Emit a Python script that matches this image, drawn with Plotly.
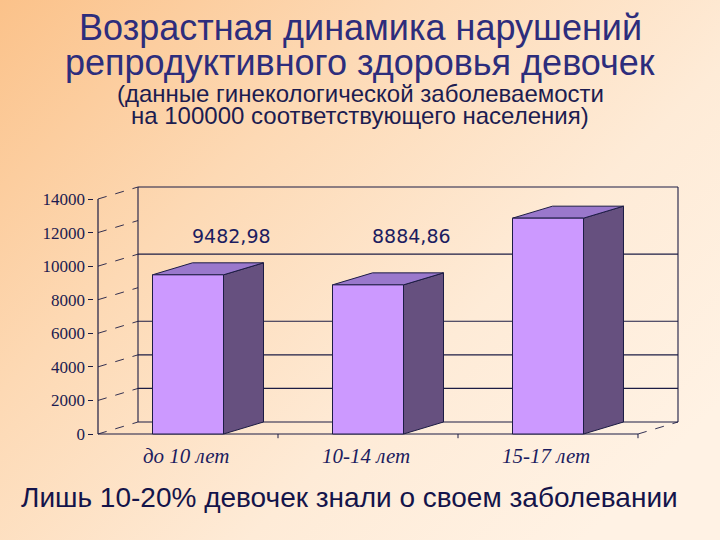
import base64
import plotly.graph_objects as go

# ---------------- data ----------------
categories = ["до 10 лет", "10-14 лет", "15-17 лет"]
values = [9482.98, 8884.86, 12858.07]
value_labels = ["9482,98", "8884,86", "12858,07"]
tick_values = [0, 2000, 4000, 6000, 8000, 10000, 12000, 14000]
tick_labels = ["0", "2000", "4000", "6000", "8000", "10000", "12000", "14000"]
back_grid_values = [0, 2000, 4000, 6000, 10000, 14000]
y_max = 14000

# ---------------- geometry / style ----------------
FIG_W, FIG_H = 720, 540
PX_X = 180.0                # px per category
PX_Y = 235.0 / y_max        # px per value unit
X0_PX, Y0_PX = 98.0, 434.0  # pixel of (x=-0.5, y=0)
DX = 40.0 / PX_X            # depth offset (x)
DY = 12.0 / PX_Y            # depth offset (y)
BAR_W = 71.0 / PX_X
EX, EY = 0.02, 300.0

x_lo, x_hi = -0.5 - EX, 2.5 + DX + EX
y_lo, y_hi = -EY, y_max + DY + EY
dom_x = [(X0_PX + (x_lo + 0.5) * PX_X) / FIG_W, (X0_PX + (x_hi + 0.5) * PX_X) / FIG_W]
dom_y = [(FIG_H - (Y0_PX - y_lo * PX_Y)) / FIG_H, (FIG_H - (Y0_PX - y_hi * PX_Y)) / FIG_H]

INK = "#1c1c44"
FRONT = "#cc99ff"
SIDE = "#66507f"
TOP = "#9a78cc"

fig = go.Figure()


def line(xs, ys, dash="solid", width=1.1, color=INK):
    fig.add_trace(go.Scatter(x=xs, y=ys, mode="lines", hoverinfo="skip",
                             line=dict(color=color, width=width, dash=dash),
                             showlegend=False))


def poly(xs, ys, fill):
    fig.add_trace(go.Scatter(x=xs + [xs[0]], y=ys + [ys[0]], mode="lines",
                             fill="toself", fillcolor=fill, hoverinfo="skip",
                             line=dict(color=INK, width=1), showlegend=False))


bx0, bx1 = -0.5 + DX, 2.5 + DX
# back wall grid lines
for v in back_grid_values:
    line([bx0, bx1], [v + DY, v + DY], width=1.1)
# back wall verticals
line([bx0, bx0], [DY, y_max + DY])
line([bx1, bx1], [DY, y_max + DY])
# dashed connectors from front axis to back wall
for v in tick_values:
    line([-0.5, bx0], [v, v + DY], dash="dash", width=0.9)
# floor
line([-0.5, 2.5], [0, 0])
line([2.5, bx1], [0, DY], dash="dash", width=0.9)
# front axis line
line([-0.5, -0.5], [0, y_max], width=1.2)
# category boundary ticks
for b in [0.5, 1.5, 2.5]:
    line([b, b], [0, -250], width=1)

# bars (front, side, top faces)
for i, v in enumerate(values):
    l, r = i - BAR_W / 2, i + BAR_W / 2
    poly([r, r + DX, r + DX, r], [0, DY, v + DY, v], SIDE)
    poly([l, l + DX, r + DX, r], [v, v + DY, v + DY, v], TOP)
    poly([l, r, r, l], [0, 0, v, v], FRONT)

# ---------------- background gradient ----------------
svg = (
    '<svg xmlns="http://www.w3.org/2000/svg" width="720" height="540" '
    'viewBox="0 0 720 540" preserveAspectRatio="none">'
    '<defs><linearGradient id="g" x1="0" y1="0" x2="1" y2="0.75">'
    '<stop offset="0" stop-color="#fbc28a"/>'
    '<stop offset="0.35" stop-color="#fdd9b4"/>'
    '<stop offset="0.7" stop-color="#feebd7"/>'
    '<stop offset="1" stop-color="#fff2e4"/>'
    '</linearGradient></defs>'
    '<rect width="720" height="540" fill="url(#g)"/></svg>'
)
bg_src = "data:image/svg+xml;base64," + base64.b64encode(svg.encode()).decode()


def py(px):
    return 1 - px / FIG_H


def pxx(px):
    return px / FIG_W


annotations = []
# title
annotations.append(dict(text="Возрастная динамика нарушений", x=pxx(360), y=py(28),
                        font=dict(family="Liberation Sans", size=36, color="#2d2d7c")))
annotations.append(dict(text="репродуктивного здоровья девочек", x=pxx(360), y=py(62),
                        font=dict(family="Liberation Sans", size=36, color="#2d2d7c")))
annotations.append(dict(text="(данные гинекологической заболеваемости", x=pxx(360), y=py(93),
                        font=dict(family="Liberation Sans", size=24, color="#1c1c50")))
annotations.append(dict(text="на 100000 соответствующего населения)", x=pxx(360), y=py(116),
                        font=dict(family="Liberation Sans", size=24, color="#1c1c50")))
annotations.append(dict(text="Лишь 10-20% девочек знали о своем заболевании", x=pxx(349), y=py(497),
                        font=dict(family="Liberation Sans", size=28, color="#14144a")))
for a in annotations:
    a.update(xref="paper", yref="paper", showarrow=False, xanchor="center", yanchor="middle")

# value labels
label_y = [11800, 11800, 15350]
for i, (t, ly) in enumerate(zip(value_labels, label_y)):
    annotations.append(dict(text=t, x=i + 0.24, y=ly, xref="x", yref="y", showarrow=False,
                            xanchor="center", yanchor="middle",
                            font=dict(family="DejaVu Sans", size=19, color="#1c1c60")))
# category labels
for i, c in enumerate(categories):
    annotations.append(dict(text=c, x=i - 0.01, y=0, xref="x", yref="y", showarrow=False,
                            xanchor="center", yanchor="top", yshift=-8,
                            font=dict(family="Liberation Serif", size=21, style="italic",
                                      color="#1c1c60")))

fig.update_layout(
    width=FIG_W, height=FIG_H,
    margin=dict(l=0, r=0, t=0, b=0),
    paper_bgcolor="#fff0e0",
    plot_bgcolor="rgba(0,0,0,0)",
    images=[dict(source=bg_src, xref="paper", yref="paper", x=0, y=1, sizex=1, sizey=1,
                 xanchor="left", yanchor="top", sizing="stretch", layer="below")],
    xaxis=dict(domain=dom_x, range=[x_lo, x_hi], showgrid=False, zeroline=False,
               showline=False, showticklabels=False, ticks="", automargin=False),
    yaxis=dict(domain=dom_y, range=[y_lo, y_hi], showgrid=False, zeroline=False,
               showline=False, tickvals=tick_values, ticktext=tick_labels,
               ticks="outside", ticklen=5, tickcolor=INK, tickwidth=1, automargin=False,
               tickfont=dict(family="Liberation Serif", size=17, color="#1c1c50")),
    annotations=annotations,
    showlegend=False,
)

fig.write_html("out.html", config={"displayModeBar": False},
               post_script="document.body.style.margin='0';")
